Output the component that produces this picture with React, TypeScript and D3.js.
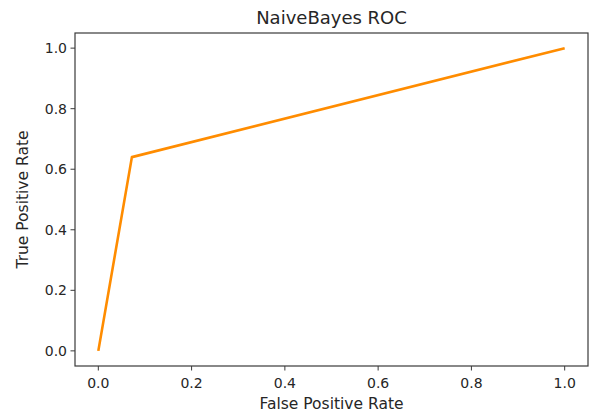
import { useMemo } from "react";
import * as d3 from "d3";

const WIDTH = 589;
const HEIGHT = 416;
const MARGIN = { top: 33, right: 1, bottom: 50, left: 75 };

// ROC curve points
const FPR = [0, 0.072, 1];
const TPR = [0, 0.64, 1];

const X_TICKS = [0, 0.2, 0.4, 0.6, 0.8, 1.0];
const Y_TICKS = [0, 0.2, 0.4, 0.6, 0.8, 1.0];

const TITLE = "NaiveBayes ROC";
const X_LABEL = "False Positive Rate";
const Y_LABEL = "True Positive Rate";

const FONT = "'DejaVu Sans', sans-serif";
const AXIS_COLOR = "#3a3a3a";
const TEXT_COLOR = "#262626";

export default function App() {
    const boundsWidth = WIDTH - MARGIN.left - MARGIN.right;
    const boundsHeight = HEIGHT - MARGIN.top - MARGIN.bottom;

    const xScale = useMemo(
        () => d3.scaleLinear().domain([-0.05, 1.05]).range([0, boundsWidth]),
        [boundsWidth]
    );
    const yScale = useMemo(
        () => d3.scaleLinear().domain([-0.05, 1.05]).range([boundsHeight, 0]),
        [boundsHeight]
    );

    const points: [number, number][] = FPR.map((x, i) => [x, TPR[i]]);
    const linePath = d3
        .line<[number, number]>()
        .x((d) => xScale(d[0]))
        .y((d) => yScale(d[1]))(points);

    const xTicks = X_TICKS.map((v, i) => (
        <g key={i} transform={`translate(${xScale(v)},${boundsHeight})`}>
            <line y1={0} y2={4.5} stroke={AXIS_COLOR} strokeWidth={1} />
            <text y={22} textAnchor="middle" fontSize={14} fill={TEXT_COLOR}>
                {v.toFixed(1)}
            </text>
        </g>
    ));

    const yTicks = Y_TICKS.map((v, i) => (
        <g key={i} transform={`translate(0,${yScale(v)})`}>
            <line x1={0} x2={-4.5} stroke={AXIS_COLOR} strokeWidth={1} />
            <text x={-8} dy="0.35em" textAnchor="end" fontSize={14} fill={TEXT_COLOR}>
                {v.toFixed(1)}
            </text>
        </g>
    ));

    return (
        <svg
            width={WIDTH}
            height={HEIGHT}
            style={{ position: "absolute", left: 0, top: 0, background: "#fff" }}
            fontFamily={FONT}
        >
            <text x={MARGIN.left + boundsWidth / 2} y={24} textAnchor="middle" fontSize={18} fill={TEXT_COLOR}>
                {TITLE}
            </text>
            <g transform={`translate(${MARGIN.left},${MARGIN.top})`}>
                <path d={linePath || ""} fill="none" stroke="#ff8c00" strokeWidth={2.6} strokeLinejoin="round" />
                <rect
                    x={0}
                    y={0}
                    width={boundsWidth}
                    height={boundsHeight}
                    fill="none"
                    stroke={AXIS_COLOR}
                    strokeWidth={1.2}
                />
                <g>{xTicks}</g>
                <g>{yTicks}</g>
                <text
                    x={boundsWidth / 2}
                    y={boundsHeight + 43}
                    textAnchor="middle"
                    fontSize={15.5}
                    fill={TEXT_COLOR}
                >
                    {X_LABEL}
                </text>
                <text
                    textAnchor="middle"
                    fontSize={15.5}
                    fill={TEXT_COLOR}
                    transform={`translate(${-47},${boundsHeight / 2}) rotate(-90)`}
                >
                    {Y_LABEL}
                </text>
            </g>
        </svg>
    );
}
